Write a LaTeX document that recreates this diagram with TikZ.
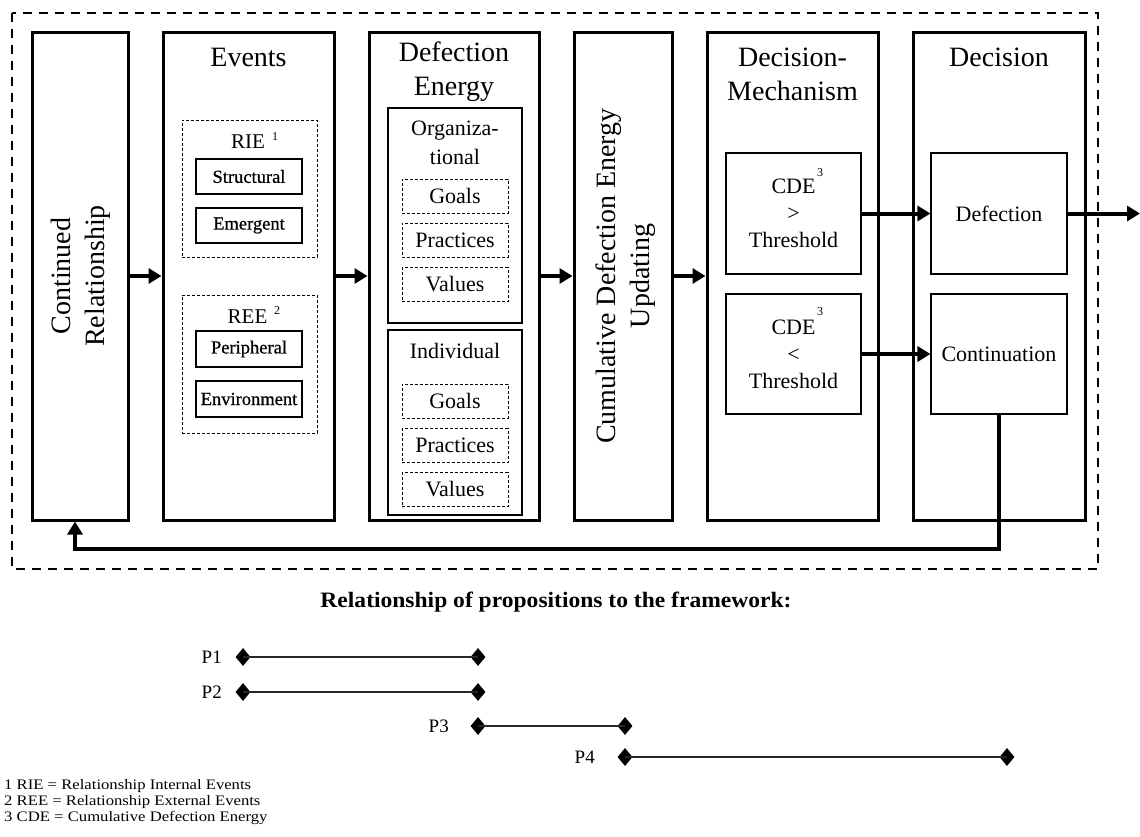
\documentclass[tikz,border=0pt]{standalone}
\usepackage{fontspec}
\setmainfont{Liberation Serif}
\newfontfamily\footfont[FakeStretch=1.15]{Liberation Serif}
\newfontfamily\titlefont[FakeStretch=1.07]{Liberation Serif}
\newfontfamily\semifont[FakeBold=0.6]{Liberation Serif}
\usetikzlibrary{arrows.meta,shapes.geometric}
\newcommand\fntA{\fontsize{28}{34}\selectfont}
\newcommand\fntB{\fontsize{22}{27}\selectfont}
\newcommand\fntC{\semifont\fontsize{18.5}{22}\selectfont}
\newcommand\fntD{\fontsize{21}{25}\selectfont}
\newcommand\fntS{\fontsize{12}{14}\selectfont}
\newcommand\fntP{\fontsize{19}{22}\selectfont}
\begin{document}
\begin{tikzpicture}[x=1pt,y=-1pt,
  bigbox/.style={draw,line width=3pt,inner sep=0pt,minimum height=488pt},
  smallbox/.style={draw,line width=1.1pt,inner sep=0pt},
  dbox/.style={draw,line width=1pt,dash pattern=on 3pt off 2pt,inner sep=0pt},
  txt/.style={inner sep=0pt,align=center},
  flow/.style={line width=4pt,-{Triangle[length=13pt,width=15pt]}},
  fb/.style={line width=3.5pt,-{Triangle[length=13pt,width=15pt]}},
  dia/.style={diamond,fill=black,draw=none,inner sep=0pt,minimum width=15pt,minimum height=18pt},
  pline/.style={line width=1.4pt,draw=black!85},
  plab/.style={inner sep=0pt,anchor=east,font=\fntP}
]
\useasboundingbox (0,0) rectangle (1140,836);
% outer dashed frame
\draw[line width=2.2pt,dash pattern=on 9pt off 7pt] (12,13) rectangle (1098,569);

% big boxes
\node[bigbox,minimum width=96pt] (b1) at (80,276) {};
\node[bigbox,minimum width=171pt] (b2) at (248.5,276) {};
\node[bigbox,minimum width=170pt] (b3) at (454,276) {};
\node[bigbox,minimum width=98pt] (b4) at (623,276) {};
\node[bigbox,minimum width=171pt] (b5) at (792.5,276) {};
\node[bigbox,minimum width=172pt] (b6) at (999,276) {};

% box 1
\node[txt,rotate=90,font=\fntA] (t1) at (81,276) {Continued\\Relationship};
% box 4
\node[txt,rotate=90,font=\fntA] (t4) at (626,276) {Cumulative Defection Energy\\Updating};

% box 2 : Events
\node[txt,font=\fntA] (t2) at (248.5,57) {Events};
\node[dbox,minimum width=135pt,minimum height=137pt] (rie) at (249.5,188.5) {};
\node[txt,font=\fntD] (rielab) at (248,142) {RIE};
\node[txt,font=\fntS] (rie1) at (275,137) {1};
\node[smallbox,minimum width=106pt,minimum height=35pt,font=\fntC] (struct) at (249,176.5) {Structural};
\node[smallbox,minimum width=106pt,minimum height=35pt,font=\fntC] (emerg) at (249,225.5) {Emergent};
\node[dbox,minimum width=135pt,minimum height=138pt] (ree) at (249.5,364) {};
\node[txt,font=\fntD] (reelab) at (247.5,317) {REE};
\node[txt,font=\fntS] (ree2) at (277,311) {2};
\node[smallbox,minimum width=106pt,minimum height=36pt,font=\fntC] (periph) at (249,349) {Peripheral};
\node[smallbox,minimum width=106pt,minimum height=36pt,font=\fntC] (envir) at (249,399) {Environment};

% box 3 : Defection Energy
\node[txt,font=\fntA] (t3) at (454,72) {Defection\\Energy};
\node[smallbox,minimum width=134pt,minimum height=215pt] (org) at (455,215.5) {};
\node[txt,font=\fontsize{22}{29}\selectfont] (orglab) at (455,142.5) {Organiza-\\tional};
\node[dbox,minimum width=106pt,minimum height=34pt,font=\fntB] (og) at (455,196) {Goals};
\node[dbox,minimum width=106pt,minimum height=34pt,font=\fntB] (op) at (455,240) {Practices};
\node[dbox,minimum width=106pt,minimum height=34pt,font=\fntB] (ov) at (455,284.5) {Values};
\node[smallbox,minimum width=134pt,minimum height=185pt] (ind) at (455,422.5) {};
\node[txt,font=\fntB] (indlab) at (455,351) {Individual};
\node[dbox,minimum width=106pt,minimum height=34pt,font=\fntB] (ig) at (455,401) {Goals};
\node[dbox,minimum width=106pt,minimum height=34pt,font=\fntB] (ip) at (455,445.5) {Practices};
\node[dbox,minimum width=106pt,minimum height=34pt,font=\fntB] (iv) at (455,489.5) {Values};

% box 5 : Decision-Mechanism
\node[txt,font=\fntA] (t5) at (792.5,74.5) {Decision-\\Mechanism};
\node[smallbox,minimum width=135pt,minimum height=121pt,align=center,font=\fntB] (cde1) at (793.5,213.5) {CDE\\>\\Threshold};
\node[txt,font=\fntS] (cde1s) at (820,173) {3};
\node[smallbox,minimum width=135pt,minimum height=120pt,align=center,font=\fntB] (cde2) at (793.5,354) {CDE\\<\\Threshold};
\node[txt,font=\fntS] (cde2s) at (820,312) {3};

% box 6 : Decision
\node[txt,font=\fntA] (t6) at (999,57) {Decision};
\node[smallbox,minimum width=136pt,minimum height=121pt,font=\fntB] (defn) at (999,213.5) {Defection};
\node[smallbox,minimum width=136pt,minimum height=120pt,font=\fntB] (cont) at (999,354) {Continuation};

% flow arrows
\draw[flow] (b1.east) -- (b2.west);
\draw[flow] (b2.east) -- (b3.west);
\draw[flow] (b3.east) -- (b4.west);
\draw[flow] (b4.east) -- (b5.west);
\draw[flow] (cde1.east) -- (defn.west);
\draw[flow] (cde2.east) -- (cont.west);
\coordinate (out) at (1140,213.5);
\draw[flow] (defn.east) -- (out);
\draw[fb,line join=miter] (cont.south) -- (cont.south |- 0,549) -| ([xshift=-5pt]b1.south);

% propositions
\node[txt,font=\titlefont\bfseries\fontsize{22}{26}\selectfont] (ptitle) at (556,602) {Relationship of propositions to the framework:};

\node[dia] (p1a) at (243,657) {};
\node[dia] (p1b) at (478,657) {};
\node[dia] (p2a) at (243,692) {};
\node[dia] (p2b) at (478,692) {};
\node[dia] (p3a) at (478,726) {};
\node[dia] (p3b) at (625,726) {};
\node[dia] (p4a) at (625,757) {};
\node[dia] (p4b) at (1007,757) {};
\draw[pline] (p1a.center) -- (p1b.center);
\draw[pline] (p2a.center) -- (p2b.center);
\draw[pline] (p3a.center) -- (p3b.center);
\draw[pline] (p4a.center) -- (p4b.center);
\node[plab] (l1) at (222,657) {P1};
\node[plab] (l2) at (222,692) {P2};
\node[plab] (l3) at (449,726) {P3};
\node[plab] (l4) at (595,757) {P4};

% footnotes
\node[txt,anchor=north west,align=left,font=\footfont\fontsize{14.5}{16.3}\selectfont] (notes) at (4,779)
 {1 RIE = Relationship Internal Events\\2 REE = Relationship External Events\\3 CDE = Cumulative Defection Energy};
\end{tikzpicture}
\end{document}
